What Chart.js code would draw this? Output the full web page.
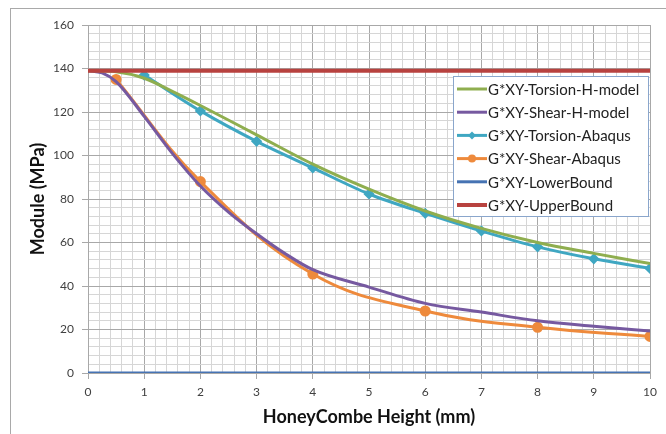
<!DOCTYPE html>
<html lang="en">

<head>
    <meta charset="UTF-8">
    <title>Module vs HoneyCombe Height</title>
    <script src="https://cdn.jsdelivr.net/npm/chart.js"></script>
    <style>
        html, body { margin: 0; padding: 0; background: #fff; }
        #wrap { width: 666px; height: 434px; }
    </style>
</head>

<body>
    <div id="wrap">
        <canvas id="myChart" width="666" height="434"></canvas>
    </div>
</body>

</html>
<script>
    // data
    var xTicks = [0, 1, 2, 3, 4, 5, 6, 7, 8, 9, 10];
    var yTicks = [0, 20, 40, 60, 80, 100, 120, 140, 160];

    var torsionHx = [0, 0.5, 1, 1.5, 2, 3, 4, 5, 6, 7, 8, 9, 10];
    var torsionHy = [139, 138.5, 135.5, 129.5, 123, 109.5, 96, 84.5, 74.5, 66.5, 60, 55, 50.3];

    var shearHx = [0, 0.25, 0.5, 1, 1.5, 2, 2.5, 3, 3.5, 4, 5, 6, 7, 8, 9, 10];
    var shearHy = [139, 138, 134, 118, 101, 86, 74, 64, 55, 47.5, 39.5, 32, 28, 24, 21.5, 19.3];

    var torsionAbx = [1, 2, 3, 4, 5, 6, 7, 8, 9, 10];
    var torsionAby = [137, 120.5, 106.5, 94.3, 82.3, 73.4, 65.3, 58, 52.5, 48.1];

    var shearAbx = [0.5, 2, 4, 6, 8, 10];
    var shearAby = [135, 88, 45.5, 28.5, 21, 16.8];

    var boundX = [0, 10];
    var lowerY = [0, 0];
    var upperY = [139, 139];

    var labels = ['G*XY-Torsion-H-model', 'G*XY-Shear-H-model', 'G*XY-Torsion-Abaqus',
        'G*XY-Shear-Abaqus', 'G*XY-LowerBound', 'G*XY-UpperBound'];
    var colors = ['#8fae4f', '#7659a0', '#3fa7c2', '#ee8a3c', '#4673b3', '#b8423f'];

    function pts(xs, ys) {
        var out = [];
        for (let i = 0; i < xs.length; i++) {
            out.push({ x: xs[i], y: ys[i] });
        }
        return out;
    }

    function isMajor(v, list) {
        for (let i = 0; i < list.length; i++) {
            if (Math.abs(v - list[i]) < 1e-6) return true;
        }
        return false;
    }

    // grey frame round the whole chart (its right/bottom edge is off the picture)
    const frame = {
        id: 'frame',
        beforeDraw(chart) {
            const c = chart.ctx;
            c.save();
            c.fillStyle = '#fff';
            c.fillRect(0, 0, chart.width, chart.height);
            c.strokeStyle = '#a9a9a9';
            c.lineWidth = 1;
            c.strokeRect(10.5, 8.5, chart.width + 20, chart.height + 20);
            c.restore();
        }
    };

    // legend box inside the plot, top right
    const boxLegend = {
        id: 'boxLegend',
        afterDraw(chart) {
            const c = chart.ctx;
            const area = chart.chartArea;
            const w = 195, h = 140;
            const left = area.right - w - 2;
            const top = area.top + 51;
            c.save();
            c.fillStyle = '#fff';
            c.fillRect(left, top, w, h);
            c.strokeStyle = '#8aa6cc';
            c.lineWidth = 1;
            c.strokeRect(left + 0.5, top + 0.5, w, h);
            c.font = '15px Lato';
            c.textBaseline = 'middle';
            chart.data.datasets.forEach(function (ds, i) {
                const yy = top + 13 + i * 23.2;
                c.strokeStyle = ds.borderColor;
                c.lineWidth = ds.borderWidth;
                c.beginPath();
                c.moveTo(left + 4, yy);
                c.lineTo(left + 34, yy);
                c.stroke();
                if (ds.pointRadius > 0) {
                    c.fillStyle = ds.borderColor;
                    c.beginPath();
                    if (ds.pointStyle === 'circle') {
                        c.arc(left + 19, yy, ds.pointRadius, 0, Math.PI * 2);
                    } else {
                        const r = ds.pointRadius + 0.5;
                        c.moveTo(left + 19, yy - r);
                        c.lineTo(left + 19 + r, yy);
                        c.lineTo(left + 19, yy + r);
                        c.lineTo(left + 19 - r, yy);
                        c.closePath();
                    }
                    c.fill();
                }
                c.fillStyle = '#222';
                c.fillText(ds.label, left + 35, yy + 1);
            });
            c.restore();
        }
    };

    function lineSet(i, data, extra) {
        var ds = {
            label: labels[i],
            data: data,
            borderColor: colors[i],
            backgroundColor: colors[i],
            borderWidth: 3,
            pointRadius: 0,
            tension: 0.4,
            cubicInterpolationMode: 'monotone',
            showLine: true,
            fill: false
        };
        return Object.assign(ds, extra || {});
    }

    const ctx = document.getElementById('myChart');

    new Chart(ctx, {
        type: 'scatter',
        data: {
            datasets: [
                lineSet(0, pts(torsionHx, torsionHy)),
                lineSet(1, pts(shearHx, shearHy)),
                lineSet(2, pts(torsionAbx, torsionAby), { pointRadius: 3.5, pointStyle: 'rectRot' }),
                lineSet(3, pts(shearAbx, shearAby), { pointRadius: 4, pointStyle: 'circle', cubicInterpolationMode: 'default' }),
                lineSet(4, pts(boundX, lowerY), { tension: 0 }),
                lineSet(5, pts(boundX, upperY), { tension: 0, borderWidth: 4, order: -1 })
            ]
        },
        options: {
            responsive: false,
            animation: false,
            devicePixelRatio: 1,
            layout: {
                padding: { top: 25, right: 16, left: 0, bottom: 0 }
            },
            plugins: {
                legend: { display: false },
                tooltip: { enabled: false }
            },
            scales: {
                x: {
                    type: 'linear',
                    min: 0,
                    max: 10,
                    afterFit: function (s) { s.height = 61; },
                    ticks: {
                        stepSize: 0.2,
                        autoSkip: false,
                        maxRotation: 0,
                        padding: 6,
                        color: '#404040',
                        font: { family: 'Lato', size: 12 },
                        callback: function (v) {
                            return isMajor(v, xTicks) ? String(Math.round(v)) : '';
                        }
                    },
                    grid: {
                        color: function (c) {
                            return isMajor(c.tick.value, xTicks) ? '#a8a8a8' : '#d6d6d6';
                        },
                        tickColor: function (c) {
                            return isMajor(c.tick.value, xTicks) ? '#a8a8a8' : 'rgba(0,0,0,0)';
                        },
                        tickLength: 6
                    },
                    border: { color: '#a8a8a8' },
                    title: {
                        display: true,
                        text: 'HoneyCombe Height (mm)',
                        color: '#111',
                        font: { family: 'Lato', size: 18, weight: 'bold' },
                        padding: { top: 0, bottom: 6 }
                    }
                },
                y: {
                    min: 0,
                    max: 160,
                    afterFit: function (s) { s.width = 88; },
                    ticks: {
                        stepSize: 4,
                        autoSkip: false,
                        padding: 8,
                        color: '#404040',
                        font: { family: 'Lato', size: 12 },
                        callback: function (v) {
                            return isMajor(v, yTicks) ? String(Math.round(v)) : '';
                        }
                    },
                    grid: {
                        color: function (c) {
                            return isMajor(c.tick.value, yTicks) ? '#a8a8a8' : '#d6d6d6';
                        },
                        tickColor: function (c) {
                            return isMajor(c.tick.value, yTicks) ? '#a8a8a8' : 'rgba(0,0,0,0)';
                        },
                        tickLength: 6
                    },
                    border: { color: '#a8a8a8' },
                    title: {
                        display: true,
                        text: 'Module (MPa)',
                        color: '#111',
                        font: { family: 'Lato', size: 18, weight: 'bold' },
                        padding: { top: 27, bottom: 0 }
                    }
                }
            }
        },
        plugins: [frame, boxLegend]
    });
</script>
